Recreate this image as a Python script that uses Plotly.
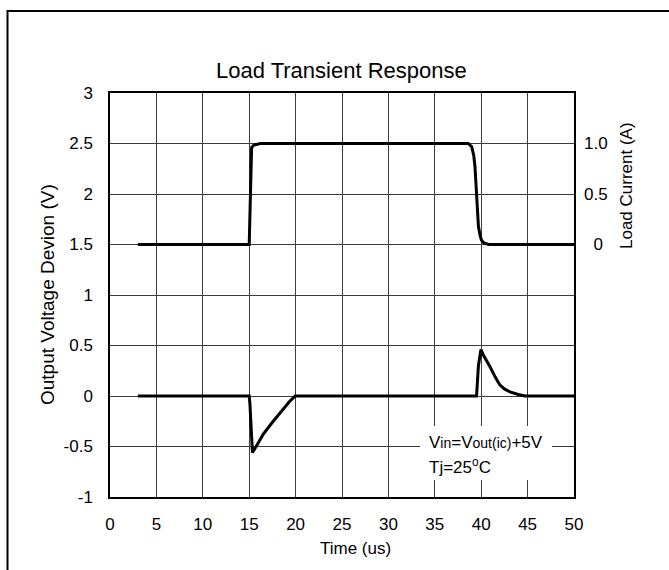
import plotly.graph_objects as go

# ---- data ----
time_v = [3, 15.0, 15.08, 15.35, 16.0, 16.5, 17.5, 18.5, 19.3, 19.95,
          39.5, 39.7, 39.85, 39.97, 40.2, 40.6, 40.95, 41.5, 42.0, 42.5, 43.1, 44.0, 44.7, 50]
volt = [0, 0, -0.08, -0.56, -0.46, -0.38, -0.26, -0.15, -0.06, 0,
        0, 0.3, 0.42, 0.46, 0.41, 0.35, 0.29, 0.19, 0.11, 0.07, 0.04, 0.015, 0, 0]

time_i = [3, 15.0, 15.26, 15.5, 16.2, 38.6, 38.97, 39.2, 39.33, 39.5, 39.7, 39.9, 40.05, 40.3, 40.8, 50]
current = [0, 0, 0.96, 0.985, 1.0, 1.0, 0.97, 0.88, 0.77, 0.47, 0.18, 0.08, 0.04, 0.015, 0.0, 0]

x_ticks = [0, 5, 10, 15, 20, 25, 30, 35, 40, 45, 50]
y_ticks = [-1, -0.5, 0, 0.5, 1, 1.5, 2, 2.5, 3]
y_tick_text = ["-1", "-0.5", "0", "0.5", "1", "1.5", "2", "2.5", "3"]
i_ticks = [0, 0.5, 1.0]
i_tick_text = ["\u00a0\u00a00", "0.5", "1.0"]

title = "Load Transient Response"
x_title = "Time (us)"
y_title = "Output Voltage Devion (V)"
y2_title = "Load Current (A)"
note1 = "V<span style='font-size:14px'>in</span>=V<span style='font-size:14px'>out(ic)</span>+5V"
note2 = "Tj=25<sup>o</sup>C"

# ---- layout geometry ----
W, H = 669, 570
L, R, T, B = 110, 95, 93, 73
PW, PH = W - L - R, H - T - B


def px(x):
    return (x - L) / PW


def py(y):
    return (H - B - y) / PH


FONT = "Liberation Sans, Arial, sans-serif"
GRID = "rgb(60,60,60)"

fig = go.Figure()
fig.add_trace(go.Scatter(x=time_v, y=volt, mode="lines",
                         line=dict(color="black", width=3), showlegend=False))
fig.add_trace(go.Scatter(x=time_i, y=current, mode="lines", yaxis="y2",
                         line=dict(color="black", width=3), showlegend=False))

fig.update_layout(
    width=W, height=H,
    margin=dict(l=L, r=R, t=T, b=B, pad=0),
    paper_bgcolor="white", plot_bgcolor="white",
    font=dict(family=FONT, size=17, color="black"),
    xaxis=dict(range=[0, 50], tickvals=x_ticks, showgrid=True, gridcolor=GRID, gridwidth=1,
               zeroline=False, showline=True, linecolor="black", linewidth=1.5, mirror=True,
               ticks="", ticklabelstandoff=11, tickfont=dict(size=17)),
    yaxis=dict(range=[-1, 3], tickvals=y_ticks, ticktext=y_tick_text, showgrid=True,
               gridcolor=GRID, gridwidth=1, zeroline=False, showline=True, linecolor="black",
               linewidth=1.5, mirror=True, ticks="", ticklabelstandoff=12, tickfont=dict(size=17)),
    yaxis2=dict(range=[-2.5, 1.5], overlaying="y", side="right", tickvals=i_ticks,
                ticktext=i_tick_text, showgrid=False, zeroline=False, showline=False,
                ticks="", ticklabelstandoff=9, tickfont=dict(size=17)),
    shapes=[
        dict(type="rect", xref="paper", yref="paper", x0=px(420), x1=px(552),
             y0=py(480), y1=py(426), fillcolor="white", line=dict(width=0), layer="above"),
        dict(type="rect", xref="paper", yref="paper", x0=px(7.5), x1=px(720),
             y0=py(620), y1=py(11), fillcolor="rgba(0,0,0,0)",
             line=dict(color="black", width=2), layer="above"),
    ],
    annotations=[
        dict(text=title, xref="paper", yref="paper", x=px(341.5), y=py(71),
             xanchor="center", yanchor="middle", showarrow=False, font=dict(size=22)),
        dict(text=x_title, xref="paper", yref="paper", x=px(355), y=py(548),
             xanchor="center", yanchor="middle", showarrow=False, font=dict(size=17)),
        dict(text=y_title, xref="paper", yref="paper", x=px(47), y=py(295),
             xanchor="center", yanchor="middle", textangle=-90, showarrow=False,
             font=dict(size=19)),
        dict(text=y2_title, xref="paper", yref="paper", x=px(626), y=py(186),
             xanchor="center", yanchor="middle", textangle=-90, showarrow=False,
             font=dict(size=17)),
        dict(text=note1, xref="paper", yref="paper", x=px(427), y=py(442),
             xanchor="left", yanchor="middle", showarrow=False, font=dict(size=17)),
        dict(text=note2, xref="paper", yref="paper", x=px(427), y=py(466),
             xanchor="left", yanchor="middle", showarrow=False, font=dict(size=17)),
    ],
)

fig.write_html("out.html")
